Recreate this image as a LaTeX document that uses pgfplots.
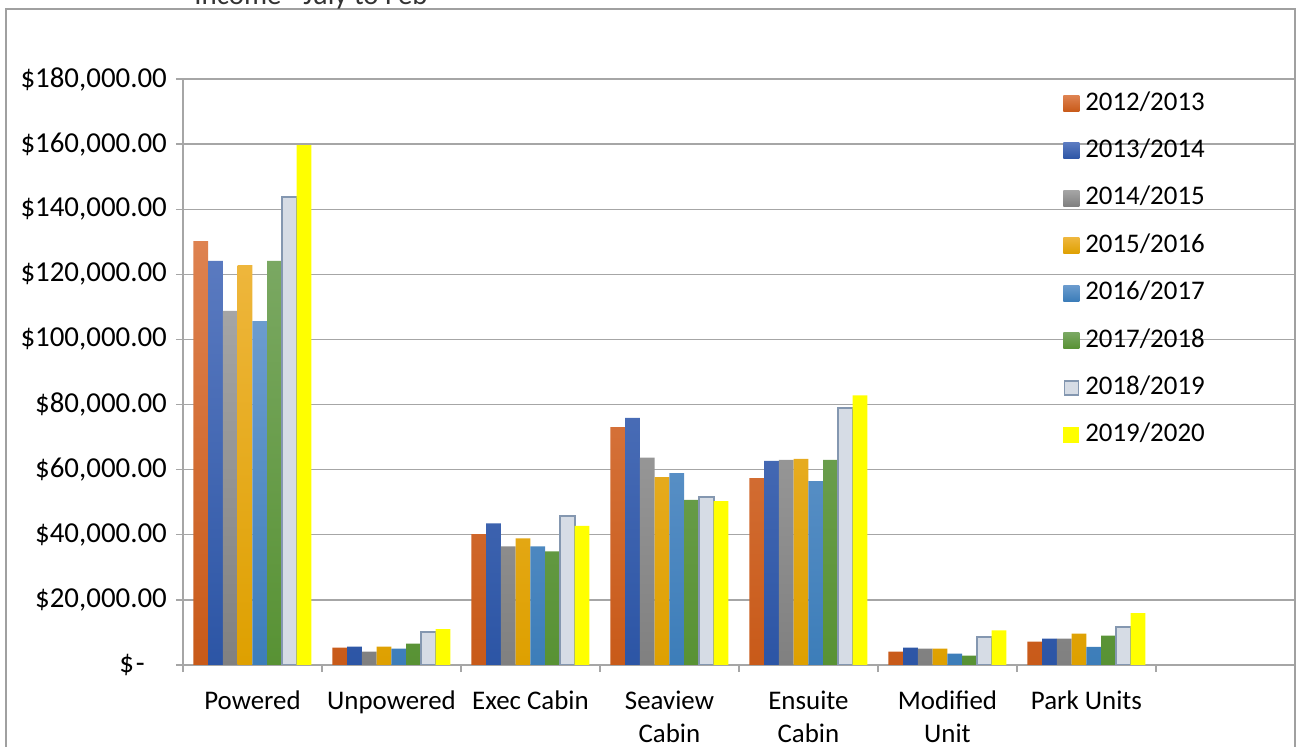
\documentclass[border=0pt]{standalone}
\usepackage{pgfplots}
\pgfplotsset{compat=1.18}
\usepackage{fontspec}
\setmainfont{Carlito}
\definecolor{gridgray}{RGB}{166,166,166}
\definecolor{bordergray}{RGB}{160,160,160}
\definecolor{orT}{RGB}{222,130,80}\definecolor{orB}{RGB}{200,90,25}
\definecolor{blT}{RGB}{90,122,192}\definecolor{blB}{RGB}{44,85,165}
\definecolor{grT}{RGB}{165,165,165}\definecolor{grB}{RGB}{128,128,128}
\definecolor{goT}{RGB}{238,182,60}\definecolor{goB}{RGB}{222,160,0}
\definecolor{lbT}{RGB}{108,156,206}\definecolor{lbB}{RGB}{60,125,185}
\definecolor{gnT}{RGB}{122,168,98}\definecolor{gnB}{RGB}{88,146,52}
\definecolor{ltF}{RGB}{214,220,229}\definecolor{ltD}{RGB}{132,151,176}
\definecolor{yel}{RGB}{255,255,0}
\pgfplotsset{
  sqleg/.style={legend image code/.code={\path[##1, draw=none] (0bp,-8bp) rectangle (16bp,8bp);}},
  sqlegd/.style={legend image code/.code={\draw[##1, line width=1.5bp] (1bp,-7bp) rectangle (15bp,7bp);}}
}
\begin{document}
\begin{tikzpicture}[x=1bp,y=1bp]
\fontsize{27}{33}\selectfont
\begin{axis}[
  at={(183bp,82bp)}, anchor=south west,
  scale only axis, width=1112bp, height=586bp,
  xmin=-0.5, xmax=7.5, ymin=0, ymax=180000,
  scaled y ticks=false,
  ybar=0pt, bar width=14.75bp,
  axis x line*=bottom, axis y line*=left,
  axis line style={gridgray, line width=1.3bp, -},
  tick align=outside,
  major tick length=7bp,
  tick style={gridgray, line width=1.3bp},
  ymajorgrids, grid style={gridgray, line width=1.3bp},
  ytick={0,20000,40000,60000,80000,100000,120000,140000,160000,180000},
  yticklabels={{\$\hspace*{2bp}-\hspace*{22bp}},{\$20,000.00},{\$40,000.00},{\$60,000.00},{\$80,000.00},{\$100,000.00},{\$120,000.00},{\$140,000.00},{\$160,000.00},{\$180,000.00}},
  yticklabel style={font=\fontsize{29}{33}\selectfont, anchor=east},
  xtick={-0.5,0.5,1.5,2.5,3.5,4.5,5.5,6.5},
  xticklabels={},
  extra x ticks={0,1,2,3,4,5,6},
  extra x tick labels={Powered,Unpowered,Exec Cabin,{Seaview\\Cabin},{Ensuite\\Cabin},{Modified\\Unit},Park Units},
  extra x tick style={major tick length=0pt, grid=none, xticklabel style={align=center, anchor=north, font=\fontsize{27}{33}\selectfont, yshift=-17bp}},
  legend style={at={(0.7915,0.9815)}, anchor=north west, draw=none, fill=none, inner sep=0pt,
    font=\fontsize{27}{33}\selectfont, row sep=20.4bp,
    /tikz/every odd column/.style={column sep=4bp},
    nodes={inner sep=2bp, text height=18bp, text depth=5bp}},
  legend cell align=left,
]
\addplot[draw=none, top color=orT, bottom color=orB, sqleg] coordinates {(0,130200) (1,5360) (2,40200) (3,73100) (4,57400) (5,4100) (6,7200)};
\addlegendentry{2012/2013}
\addplot[draw=none, top color=blT, bottom color=blB, sqleg] coordinates {(0,124100) (1,5670) (2,43500) (3,75900) (4,62700) (5,5300) (6,8100)};
\addlegendentry{2013/2014}
\addplot[draw=none, top color=grT, bottom color=grB, sqleg] coordinates {(0,108800) (1,4120) (2,36400) (3,63700) (4,63000) (5,5000) (6,8100)};
\addlegendentry{2014/2015}
\addplot[draw=none, top color=goT, bottom color=goB, sqleg] coordinates {(0,122800) (1,5670) (2,38900) (3,57700) (4,63300) (5,5000) (6,9600)};
\addlegendentry{2015/2016}
\addplot[draw=none, top color=lbT, bottom color=lbB, sqleg] coordinates {(0,105600) (1,5050) (2,36400) (3,58900) (4,56500) (5,3500) (6,5600)};
\addlegendentry{2016/2017}
\addplot[draw=none, top color=gnT, bottom color=gnB, sqleg] coordinates {(0,124100) (1,6600) (2,34900) (3,50700) (4,63000) (5,2900) (6,9000)};
\addlegendentry{2017/2018}
\addplot[fill=ltF, draw=ltD, line width=2bp, sqlegd] coordinates {(0,143800) (1,10000) (2,45900) (3,51700) (4,78800) (5,8600) (6,11600)};
\addlegendentry{2018/2019}
\addplot[fill=yel, draw=none, sqleg] coordinates {(0,159700) (1,11000) (2,42700) (3,50300) (4,82800) (5,10600) (6,15900)};
\addlegendentry{2019/2020}
\end{axis}
\draw[bordergray, line width=1.3bp] (6bp,-20bp) rectangle (1295bp,738bp);
\node[anchor=base, text=black!80, font=\fontsize{29}{33}\selectfont] at (311bp,742bp) {Income - July to Feb};
\pgfresetboundingbox
\useasboundingbox (0,0) rectangle (1299bp,747bp);
\end{tikzpicture}
\end{document}
